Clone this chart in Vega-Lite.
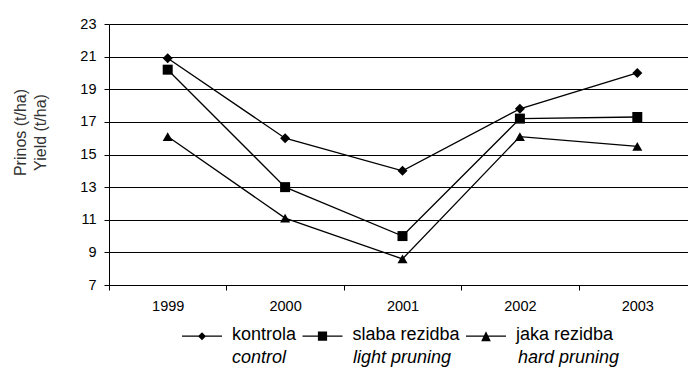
{
  "$schema": "https://vega.github.io/schema/vega-lite/v6.json",
  "width": 579,
  "height": 261,
  "autosize": "none",
  "padding": {"left": 109, "top": 24, "right": 0, "bottom": 83},
  "background": "white",
  "data": {
    "values": [
      {"year": "1999", "series": "kontrola", "en": "control", "yield": 20.9},
      {"year": "2000", "series": "kontrola", "en": "control", "yield": 16.0},
      {"year": "2001", "series": "kontrola", "en": "control", "yield": 14.0},
      {"year": "2002", "series": "kontrola", "en": "control", "yield": 17.8},
      {"year": "2003", "series": "kontrola", "en": "control", "yield": 20.0},
      {"year": "1999", "series": "slaba rezidba", "en": "light pruning", "yield": 20.2},
      {"year": "2000", "series": "slaba rezidba", "en": "light pruning", "yield": 13.0},
      {"year": "2001", "series": "slaba rezidba", "en": "light pruning", "yield": 10.0},
      {"year": "2002", "series": "slaba rezidba", "en": "light pruning", "yield": 17.2},
      {"year": "2003", "series": "slaba rezidba", "en": "light pruning", "yield": 17.3},
      {"year": "1999", "series": "jaka rezidba", "en": "hard pruning", "yield": 16.1},
      {"year": "2000", "series": "jaka rezidba", "en": "hard pruning", "yield": 11.1},
      {"year": "2001", "series": "jaka rezidba", "en": "hard pruning", "yield": 8.6},
      {"year": "2002", "series": "jaka rezidba", "en": "hard pruning", "yield": 16.1},
      {"year": "2003", "series": "jaka rezidba", "en": "hard pruning", "yield": 15.5}
    ]
  },
  "encoding": {
    "x": {
      "field": "year",
      "type": "nominal",
      "bandPosition": 0.5,
      "scale": {"type": "band", "paddingInner": 0, "paddingOuter": 0, "range": [0, 587]},
      "axis": {
        "title": null,
        "labelAngle": 0,
        "labelFont": "Liberation Sans",
        "labelFontSize": 14.5,
        "labelColor": "#000",
        "labelPadding": 9,
        "tickBand": "extent",
        "tickSize": 5,
        "tickColor": "#000",
        "domainColor": "#000",
        "grid": false
      }
    },
    "y": {
      "field": "yield",
      "type": "quantitative",
      "scale": {"domain": [7, 23], "nice": false, "zero": false},
      "axis": {
        "values": [7, 9, 11, 13, 15, 17, 19, 21, 23],
        "title": ["Prinos (t/ha)", "Yield (t/ha)"],
        "titleFont": "Liberation Sans",
        "titleFontSize": 16,
        "titleFontWeight": "normal",
        "titleColor": "#333",
        "titleAngle": -90,
        "titleBaseline": "top",
        "titleAlign": "center",
        "titleLineHeight": 20,
        "titleX": -97,
        "titleY": 108,
        "labelFont": "Liberation Sans",
        "labelFontSize": 14.5,
        "labelColor": "#000",
        "labelPadding": 8,
        "tickSize": 5,
        "tickColor": "#000",
        "domainColor": "#000",
        "grid": true,
        "gridColor": "#000",
        "gridWidth": 1
      }
    }
  },
  "layer": [
    {
      "mark": {"type": "line", "color": "#000", "strokeWidth": 1.3},
      "encoding": {
        "detail": {"field": "series"},
        "opacity": {
          "field": "en",
          "type": "ordinal",
          "scale": {"domain": ["control", "light pruning", "hard pruning"], "range": [1, 1, 1]},
          "legend": {
            "title": null,
            "orient": "none",
            "direction": "horizontal",
            "legendX": 73,
            "legendY": 313.6,
            "padding": 0,
            "symbolType": "square",
            "symbolSize": 1600,
            "symbolOpacity": 0,
            "symbolStrokeWidth": 0,
            "labelFont": "Liberation Sans",
            "labelFontSize": 18,
            "labelFontStyle": "italic",
            "labelColor": "#000",
            "labelOffset": 10,
            "labelLimit": 300,
            "columnPadding": 16
          }
        }
      }
    },
    {
      "mark": {"type": "point", "filled": true, "color": "#000", "size": 100, "opacity": 1},
      "encoding": {
        "shape": {
          "field": "series",
          "type": "nominal",
          "scale": {
            "domain": ["kontrola", "slaba rezidba", "jaka rezidba"],
            "range": ["diamond", "square", "triangle-up"]
          },
          "legend": null
        }
      }
    },
    {
      "mark": {"type": "point", "filled": true, "color": "#000", "size": 1600, "opacity": 0},
      "encoding": {
        "shape": {
          "field": "series",
          "type": "nominal",
          "scale": {
            "domain": ["kontrola", "slaba rezidba", "jaka rezidba"],
            "range": [
              "M-1,0.0475H1V0.1125H-1ZM0,-0.12L0.2,0.08L0,0.28L-0.2,0.08Z",
              "M-1,0.0475H1V0.1125H-1ZM-0.23,-0.15H0.23V0.31H-0.23Z",
              "M-1,0.0475H1V0.1125H-1ZM0,-0.17L0.24,0.33L-0.24,0.33Z"
            ]
          },
          "legend": {
            "title": null,
            "orient": "none",
            "direction": "horizontal",
            "legendX": 73,
            "legendY": 290.6,
            "padding": 0,
            "symbolSize": 1600,
            "symbolOpacity": 1,
            "symbolFillColor": "#000",
            "symbolStrokeWidth": 0,
            "labelFont": "Liberation Sans",
            "labelFontSize": 18,
            "labelColor": "#000",
            "labelOffset": 10,
            "labelLimit": 300,
            "columnPadding": 5.5
          }
        }
      }
    }
  ],
  "resolve": {"scale": {"shape": "independent"}, "legend": {"shape": "independent"}},
  "config": {
    "view": {"stroke": null},
    "font": "Liberation Sans"
  }
}
